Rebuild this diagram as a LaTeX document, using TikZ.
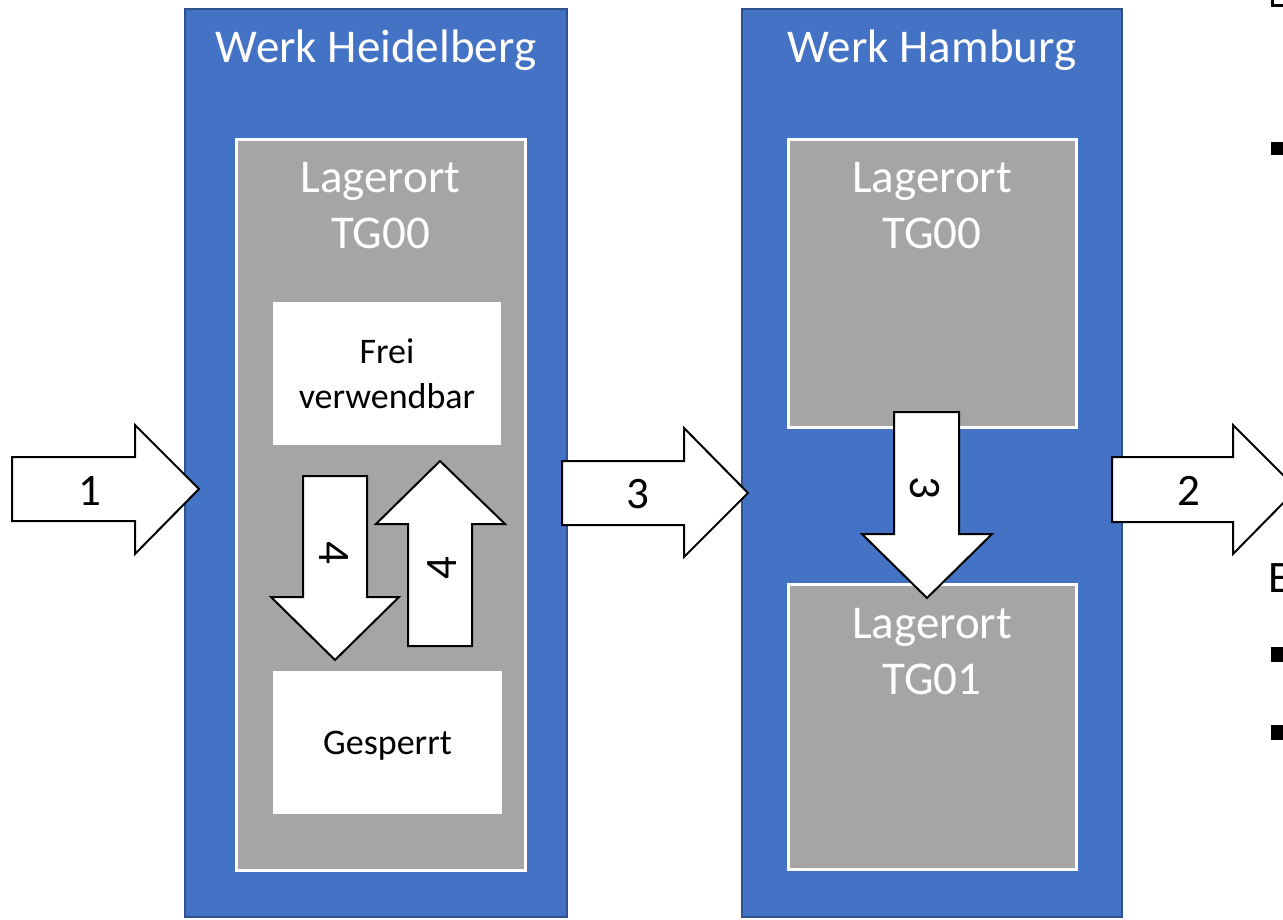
\documentclass[tikz,border=0pt]{standalone}
\usepackage{fontspec}
\setmainfont{Carlito}
\definecolor{wblue}{HTML}{4472C4}
\definecolor{wborder}{HTML}{2F528F}
\definecolor{lgray}{HTML}{A5A5A5}
\begin{document}
\begin{tikzpicture}[x=1pt,y=-1pt,
  werk/.style={fill=wblue,draw=wborder,line width=1.5pt},
  lager/.style={fill=lgray,draw=white,line width=3pt},
  stock/.style={fill=white,draw=none},
  blk/.style={fill=white,draw=black,line width=2pt,line join=miter},
  big/.style={font=\fontsize{47}{56}\selectfont,text=white,inner sep=0pt,anchor=base},
  mid/.style={font=\fontsize{36}{44}\selectfont,inner sep=0pt,anchor=base},
  num/.style={font=\fontsize{45}{54}\selectfont,inner sep=0pt}]
\useasboundingbox (0,0) rectangle (1283,920);
\clip (0,0) rectangle (1283,920);

% plants
\draw[werk] (185,9) rectangle (567,917);
\draw[werk] (742,9) rectangle (1122,917);

% storage locations
\draw[lager] (236,140) rectangle (525,870);
\draw[lager] (788,140) rectangle (1076,427);
\draw[lager] (788,584) rectangle (1076,869);

% stock types
\fill[stock] (273,302) rectangle (501,445);
\fill[stock] (273,671) rectangle (502,814);

% texts
\node[big] (hdT) at (376,63) {Werk Heidelberg};
\node[big] (hdL1) at (380.5,193) {Lagerort};
\node[big] (hdL2) at (380.5,249) {TG00};
\node[mid] (fr1) at (387,363) {Frei};
\node[mid] (fr2) at (387,408) {verwendbar};
\node[mid] (gs) at (387.5,754) {Gesperrt};
\node[big] (hhT) at (932,63) {Werk Hamburg};
\node[big] (hhL1) at (932,193) {Lagerort};
\node[big] (hhL2) at (932,249) {TG00};
\node[big] (hhM1) at (932,638) {Lagerort};
\node[big] (hhM2) at (932,694) {TG01};

% block arrows
\draw[blk] (12,457) -- (135,457) -- (135,425) -- (199,489) -- (135,554) -- (135,521) -- (12,521) -- cycle;
\draw[blk] (562,461) -- (684,461) -- (684,428) -- (748,493) -- (684,557) -- (684,525) -- (562,525) -- cycle;
\draw[blk] (1112,457) -- (1233,457) -- (1233,425) -- (1297,489) -- (1233,554) -- (1233,522) -- (1112,522) -- cycle;
\draw[blk] (303,476) -- (367,476) -- (367,597) -- (399,597) -- (335,660) -- (271,597) -- (303,597) -- cycle;
\draw[blk] (408,646) -- (408,524) -- (376,524) -- (440,461) -- (505,524) -- (472,524) -- (472,646) -- cycle;
\draw[blk] (894,412) -- (959,412) -- (959,534) -- (992,534) -- (927,598) -- (862,534) -- (894,534) -- cycle;

\node[num] (n1) at (90,491) {1};
\node[num] (n3a) at (638,494) {3};
\node[num] (n2) at (1189,491) {2};
\node[num,rotate=-90] (n4a) at (333.5,553) {4};
\node[num,rotate=90] (n4b) at (442,568) {4};
\node[num,rotate=-90] (n3b) at (925,488) {3};

% cut-off text at the right edge
\draw[line width=3pt] (1272.5,-10) rectangle (1295,5.5);
\fill (1271,142) rectangle (1284,155);
\node[font=\fontsize{45}{54}\selectfont,inner sep=0pt,anchor=base west] (eTxt) at (1268,592) {E};
\fill (1271,647) rectangle (1284,662);
\fill (1271,725) rectangle (1284,740);
\end{tikzpicture}
\end{document}
